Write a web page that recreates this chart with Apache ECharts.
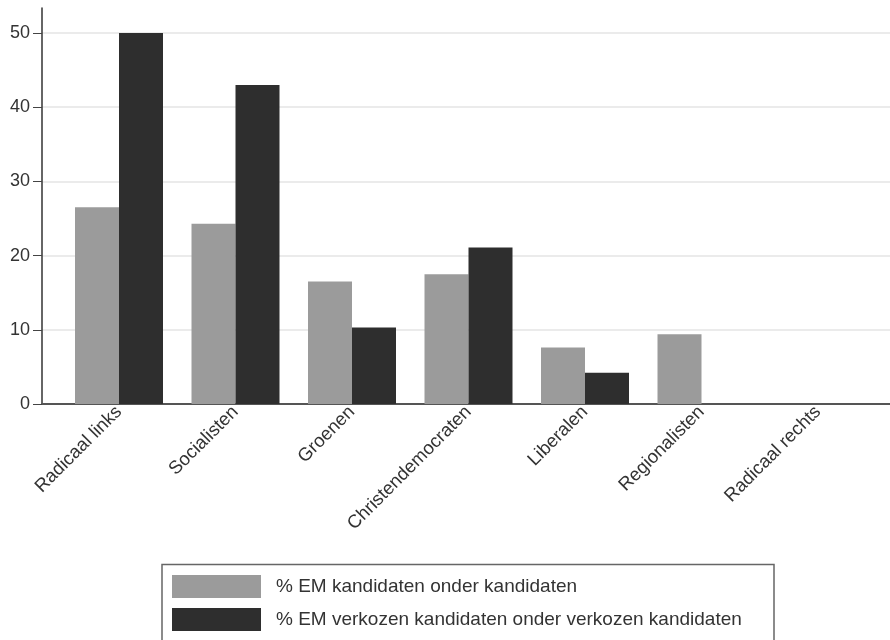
<!DOCTYPE html>
<html>
<head>
<meta charset="utf-8">
<script src="https://cdn.jsdelivr.net/npm/echarts@6/dist/echarts.min.js"></script>
<style>
html,body{margin:0;padding:0;background:#fff;}
#c{width:890px;height:640px;}
</style>
</head>
<body>
<div id="c"></div>
<script>
const categories = ['Radicaal links','Socialisten','Groenen','Christendemocraten','Liberalen','Regionalisten','Radicaal rechts'];
const candidates = [26.5, 24.3, 16.5, 17.5, 7.6, 9.4, 0];
const elected = [50, 43, 10.3, 21.1, 4.2, 0, 0];
const seriesNames = ['% EM kandidaten onder kandidaten', '% EM verkozen kandidaten onder verkozen kandidaten'];
const yTicks = [0, 10, 20, 30, 40, 50];

const FONT = 'Liberation Sans, Arial, sans-serif';
const chart = echarts.init(document.getElementById('c'), null, {renderer: 'canvas'});
chart.setOption({
  animation: false,
  backgroundColor: '#fff',
  textStyle: {fontFamily: FONT},
  grid: [
    {left: 42, right: 0, top: 33, bottom: 236},
    {left: 42, right: 0, top: 8, bottom: 236},
    {left: 60.75, right: 13.75, top: 33, bottom: 236}
  ],
  xAxis: [
    {gridIndex: 0, type: 'value', min: 0, max: 1, axisLine: {show: true, onZero: false, lineStyle: {color: '#555', width: 2}}, axisTick: {show: false}, axisLabel: {show: false}, splitLine: {show: false}},
    {gridIndex: 1, type: 'value', min: 0, max: 1, show: false},
    {gridIndex: 2, type: 'category', data: categories, axisLine: {show: false}, axisTick: {show: false}, splitLine: {show: false},
      axisLabel: {rotate: 45, interval: 0, fontSize: 18.5, color: '#333', margin: 5, fontFamily: FONT}}
  ],
  yAxis: [
    {gridIndex: 0, type: 'value', min: yTicks[0], max: yTicks[yTicks.length - 1], interval: 10,
      axisLine: {show: false}, axisTick: {show: true, length: 9, lineStyle: {color: '#444'}},
      axisLabel: {fontSize: 18, color: '#333', margin: 12, fontFamily: FONT},
      splitLine: {show: true, lineStyle: {color: '#ebebeb', width: 2}}},
    {gridIndex: 1, type: 'value', min: 0, max: 1, axisLine: {show: true, lineStyle: {color: '#333', width: 1.5}}, axisTick: {show: false}, axisLabel: {show: false}, splitLine: {show: false}},
    {gridIndex: 2, type: 'value', min: yTicks[0], max: yTicks[yTicks.length - 1], show: false}
  ],
  legend: {
    left: 172, top: 575, orient: 'vertical', itemWidth: 89, itemHeight: 23, itemGap: 10,
    icon: 'rect', padding: 0,
    textStyle: {fontSize: 19, color: '#333', padding: [0, 0, 0, 10], fontFamily: FONT},
    data: seriesNames
  },
  graphic: [
    {type: 'rect', shape: {x: 162, y: 564.5, width: 612, height: 90}, style: {fill: 'none', stroke: '#666', lineWidth: 1.5}, silent: true}
  ],
  series: [
    {name: seriesNames[0], type: 'bar', xAxisIndex: 2, yAxisIndex: 2, data: candidates, barWidth: 44, barGap: '0%', itemStyle: {color: '#9b9b9b'}},
    {name: seriesNames[1], type: 'bar', xAxisIndex: 2, yAxisIndex: 2, data: elected, barWidth: 44, barGap: '0%', itemStyle: {color: '#2e2e2e'}}
  ]
});
</script>
</body>
</html>
